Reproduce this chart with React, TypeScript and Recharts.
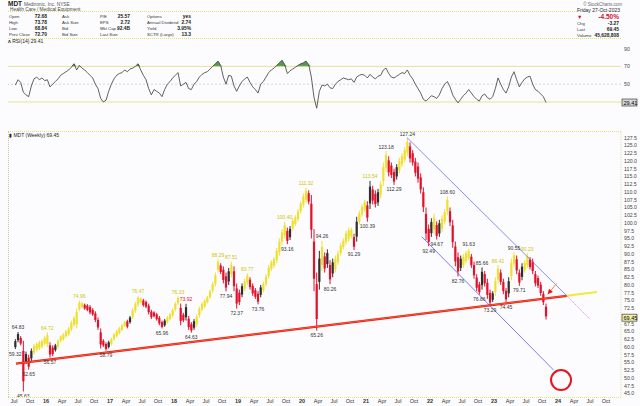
import React from 'react';
import {
  ComposedChart, Bar, Line, Area, XAxis, YAxis, Scatter,
  ReferenceLine, ReferenceDot,
} from 'recharts';

const FONT = '"Liberation Sans", Arial, sans-serif';

// Half-month bars [low, high]
const bars2015: [number, number][] = [[59.32,62.5],[61.5,64.83],[60.5,63.5],[45.63,62.0],[54.5,58.5],[52.65,57.5],[55.5,59.5],[57.5,61.0],[58.5,61.5],[59.0,62.0],[59.5,62.5],[60.5,63.5]];
const bars2016: [number, number][] = [[60.0,64.72],[56.57,61.5],[57.0,60.5],[58.5,61.0],[59.5,62.5],[61.5,63.8],[62.0,64.5],[63.0,65.5],[63.5,66.5],[65.0,68.5],[66.5,70.0],[66.0,72.5],[71.5,74.96],[72.5,74.5],[72.0,74.0],[71.5,73.8],[70.5,73.5],[70.0,72.5],[68.0,71.5],[65.5,69.5],[59.5,66.0],[60.0,62.5],[58.79,61.5],[59.5,62.0]];
const bars2017: [number, number][] = [[60.5,63.0],[62.0,64.5],[63.0,65.5],[64.0,66.5],[65.0,67.5],[66.5,68.5],[66.0,68.8],[67.5,70.0],[69.0,72.5],[71.0,74.5],[73.0,76.47],[74.0,76.0],[73.0,75.5],[72.5,75.0],[70.5,74.0],[69.0,72.0],[69.5,71.5],[68.5,71.0],[67.0,70.0],[65.96,68.5],[66.5,69.0],[67.5,70.0],[68.5,71.0],[69.5,72.5]];
const bars2018: [number, number][] = [[71.5,74.5],[73.5,76.33],[67.0,74.0],[68.0,71.0],[68.5,73.92],[65.5,70.0],[64.63,68.0],[65.5,69.0],[66.5,70.5],[69.5,73.0],[71.5,74.5],[72.5,75.5],[74.0,76.5],[75.5,78.5],[77.5,81.0],[79.5,84.0],[84.0,88.29],[83.5,87.0],[80.5,86.0],[77.94,84.0],[80.0,85.5],[82.5,87.51],[78.0,86.0],[72.37,80.5]];
const bars2019: [number, number][] = [[73.5,78.5],[76.0,80.5],[78.0,82.0],[80.0,83.77],[78.5,82.5],[76.5,80.5],[75.5,79.0],[73.76,78.0],[76.0,80.0],[77.5,81.0],[79.5,83.5],[82.0,86.5],[84.5,88.0],[85.5,89.0],[87.0,92.0],[89.5,95.0],[93.0,98.0],[95.0,100.4],[93.16,98.5],[94.5,99.0],[97.5,101.5],[99.0,102.5],[100.5,104.5],[103.0,107.0]];
const bars2020: [number, number][] = [[105.0,109.5],[106.5,111.32],[106.0,110.5],[95.0,109.0],[78.0,98.0],[65.26,84.0],[78.5,91.0],[84.5,94.26],[84.0,90.5],[85.5,91.5],[80.26,88.0],[82.5,88.5],[84.0,89.5],[86.5,91.0],[89.5,93.5],[91.5,95.0],[93.0,97.5],[94.0,98.5],[95.0,98.5],[91.29,96.5],[94.0,102.0],[99.5,104.0],[102.0,106.0],[103.5,107.5]];
const bars2021: [number, number][] = [[100.39,107.0],[104.5,113.54],[106.0,112.0],[105.0,110.5],[105.5,111.0],[108.0,113.5],[112.0,119.5],[116.5,123.18],[115.0,121.5],[114.5,119.5],[112.29,117.5],[114.0,119.0],[116.0,121.0],[118.0,122.5],[119.5,124.5],[121.5,127.24],[119.5,126.0],[118.5,123.5],[115.0,121.0],[113.0,119.5],[109.5,116.0],[103.5,111.5],[94.5,105.0],[92.49,99.5]];
const bars2022: [number, number][] = [[95.5,101.5],[96.5,103.0],[94.67,100.5],[95.5,101.0],[97.0,102.5],[99.5,104.5],[102.5,108.6],[99.0,105.0],[92.0,101.0],[86.0,94.0],[82.76,90.5],[84.5,89.5],[85.5,90.0],[87.0,91.0],[88.0,91.63],[85.5,90.0],[82.0,87.5],[78.0,83.5],[76.86,81.0],[78.5,85.66],[79.5,84.5],[75.5,82.0],[73.29,78.5],[74.5,78.0]];
const bars2023: [number, number][] = [[76.5,82.5],[80.5,86.41],[80.0,85.0],[77.0,82.0],[74.45,79.0],[76.0,82.5],[81.5,88.5],[86.0,90.55],[83.5,89.5],[79.71,85.0],[81.5,87.0],[84.0,88.0],[85.5,90.23],[85.0,89.0],[83.5,88.5],[79.5,84.5],[79.0,83.0],[76.5,81.0],[73.5,78.0],[68.84,74.0]];

// RSI(14), half-month readings
const rsi2015 = [49,55,52,41,38,36,48,56,58,55,57,54];
const rsi2016 = [55,47,50,53,56,60,62,64,66,69,73,66,71,68,66,63,60,57,50,45,34,30,32,42];
const rsi2017 = [50,56,60,62,63,66,64,67,68,70,73,66,60,55,45,38,44,42,40,36,44,50,53,57];
const rsi2018 = [60,63,48,50,52,45,44,50,53,58,61,63,64,67,70,73,76,71,58,50,60,59,48,42];
const rsi2019 = [48,53,56,58,52,47,44,40,50,53,58,63,66,68,71,74,77,72,62,65,67,69,71,73];
const rsi2020 = [74,76,72,58,35,23,42,49,48,50,46,45,50,53,55,57,56,55,56,52,58,60,61,60];
const rsi2021 = [57,61,58,56,59,60,66,68,62,58,57,59,61,63,62,66,60,56,50,45,40,33,31,34];
const rsi2022 = [37,36,34,38,45,50,53,47,38,33,29,33,37,40,44,40,36,33,31,37,39,35,33,36];
const rsi2023 = [45,57,50,44,40,47,58,64,55,47,52,56,58,59,50,44,42,39,36,29.41];

const years = [
  { year: 2015, startHalf: 12, bars: bars2015, rsi: rsi2015 },
  { year: 2016, startHalf: 0, bars: bars2016, rsi: rsi2016 },
  { year: 2017, startHalf: 0, bars: bars2017, rsi: rsi2017 },
  { year: 2018, startHalf: 0, bars: bars2018, rsi: rsi2018 },
  { year: 2019, startHalf: 0, bars: bars2019, rsi: rsi2019 },
  { year: 2020, startHalf: 0, bars: bars2020, rsi: rsi2020 },
  { year: 2021, startHalf: 0, bars: bars2021, rsi: rsi2021 },
  { year: 2022, startHalf: 0, bars: bars2022, rsi: rsi2022 },
  { year: 2023, startHalf: 0, bars: bars2023, rsi: rsi2023 },
];

// high / low annotations: [t, price, text, above?, colour]
const annotations: [number, number, string, boolean, string][] = [
  [2015.521, 59.32, '59.32', false, 'd'],
  [2015.563, 64.83, '64.83', true, 'd'],
  [2015.646, 45.63, '45.63', false, 'd'],
  [2015.729, 52.65, '52.65', false, 'd'],
  [2016.021, 64.72, '64.72', true, 'y'],
  [2016.063, 56.57, '56.57', false, 'd'],
  [2016.521, 74.96, '74.96', true, 'y'],
  [2016.938, 58.79, '58.79', false, 'd'],
  [2017.438, 76.47, '76.47', true, 'y'],
  [2017.813, 65.96, '65.96', false, 'd'],
  [2018.063, 76.33, '76.33', true, 'y'],
  [2018.188, 73.92, '73.92', true, 'r'],
  [2018.271, 64.63, '64.63', false, 'd'],
  [2018.688, 88.29, '88.29', true, 'y'],
  [2018.813, 77.94, '77.94', false, 'd'],
  [2018.896, 87.51, '87.51', true, 'y'],
  [2018.979, 72.37, '72.37', false, 'd'],
  [2019.146, 83.77, '83.77', true, 'y'],
  [2019.313, 73.76, '73.76', false, 'd'],
  [2019.729, 100.40, '100.40', true, 'y'],
  [2019.771, 93.16, '93.16', false, 'd'],
  [2020.063, 111.32, '111.32', true, 'y'],
  [2020.229, 65.26, '65.26', false, 'd'],
  [2020.313, 94.26, '94.26', true, 'd'],
  [2020.438, 80.26, '80.26', false, 'd'],
  [2020.813, 91.29, '91.29', false, 'd'],
  [2021.021, 100.39, '100.39', false, 'd'],
  [2021.063, 113.54, '113.54', true, 'y'],
  [2021.313, 123.18, '123.18', true, 'd'],
  [2021.438, 112.29, '112.29', false, 'd'],
  [2021.646, 127.24, '127.24', true, 'd'],
  [2021.979, 92.49, '92.49', false, 'd'],
  [2022.104, 94.67, '94.67', false, 'd'],
  [2022.271, 108.60, '108.60', true, 'd'],
  [2022.438, 82.76, '82.76', false, 'd'],
  [2022.604, 91.63, '91.63', true, 'd'],
  [2022.771, 76.86, '76.86', false, 'd'],
  [2022.813, 85.66, '85.66', true, 'd'],
  [2022.938, 73.29, '73.29', false, 'd'],
  [2023.063, 86.41, '86.41', true, 'y'],
  [2023.188, 74.45, '74.45', false, 'd'],
  [2023.313, 90.55, '90.55', true, 'd'],
  [2023.396, 79.71, '79.71', false, 'd'],
  [2023.521, 90.23, '90.23', true, 'y'],
];

// trendlines: [t1, p1, t2, p2]
const supportLine = [2015.53, 54.6, 2024.136, 76.5];
const supportExt = [2024.136, 76.5, 2024.61, 77.7];
const upperChannel = [2021.64, 127.56, 2024.136, 76.53];
const upperExt = [2024.136, 76.53, 2024.5, 68.92];
const lowerChannel = [2021.87, 95.56, 2023.93, 52.56];
const arrowLine = [2023.98, 80.53, 2023.84, 76.98];
const targetCircle = [2024.047, 49.32];

const xTickLabels = ['Jul','Oct',
  '16','Apr','Jul','Oct','17','Apr','Jul','Oct','18','Apr','Jul','Oct',
  '19','Apr','Jul','Oct','20','Apr','Jul','Oct','21','Apr','Jul','Oct',
  '22','Apr','Jul','Oct','23','Apr','Jul','Oct','24','Apr','Jul','Oct'];
const xTicks = xTickLabels.map((_, i) => 2015.5 + i * 0.25);
const yTicks = Array.from({ length: 34 }, (_, i) => 45 + i * 2.5).filter((v) => v !== 70);
const lastClose = 69.45;
const lastRsi = 29.41;

type Row = { t: number; low: number; high: number; rsi: number; color: string };
const rows: Row[] = [];
years.forEach((y) => {
  y.bars.forEach((b, i) => {
    rows.push({ t: y.year + (y.startHalf + i) / 24 + 1 / 48, low: b[0], high: b[1], rsi: y.rsi[i], color: '' });
  });
});
const mids = rows.map((r) => (r.low + r.high) / 2);
rows.forEach((r, i) => {
  const up = i === 0 || mids[i] > mids[i - 1];
  const up2 = i > 1 && mids[i - 1] > mids[i - 2];
  r.color = !up ? '#e4112b' : up2 ? '#eee030' : '#2e2e2e';
});

const annData = annotations.map(([t, p, text, above, c]) => ({ t, p, text, above, c }));
const segData = (a: number[]) => [{ t: a[0], v: a[1] }, { t: a[2], v: a[3] }];

const X_DOMAIN: [number, number] = [2015.406, 2024.984];

const CandleShape = (props: any) => {
  const { x, y, width, height, payload } = props;
  if (x == null || y == null || !payload) return null;
  const cx = x + (width || 0) / 2;
  const top = Math.min(y, y + height);
  const h = Math.max(Math.abs(height), 1);
  return (
    <g>
      <rect x={cx - 0.5} y={top} width={1} height={h} fill={payload.color} />
      <rect x={cx - 1.1} y={top + h * 0.2} width={2.2} height={h * 0.6} fill={payload.color} />
    </g>
  );
};

const AnnShape = (props: any) => {
  const { cx, cy, payload } = props;
  const fill = payload.c === 'y' ? '#cfc400' : payload.c === 'r' ? '#e4112b' : '#333';
  return (
    <text x={cx} y={payload.above ? cy - 2.5 : cy + 6.5} textAnchor="middle" fontSize={5} fill={fill} fontFamily={FONT}>
      {payload.text}
    </text>
  );
};

const XTick = (props: any) => {
  const { x, y, payload } = props;
  const idx = Math.round((payload.value - xTicks[0]) * 4);
  const label = xTickLabels[idx] ?? '';
  const isYear = /^\d/.test(label);
  return (
    <text x={x} y={y + 6} textAnchor="middle" fontSize={5.5} fontWeight={isYear ? 700 : 400} fill="#333" fontFamily={FONT}>
      {label}
    </text>
  );
};

const YTick = (props: any) => {
  const { x, y, payload } = props;
  if (payload.value === lastClose) {
    return (
      <g>
        <rect x={x - 2} y={y - 3.5} width={15} height={7} fill="#f4f0a8" stroke="#222" strokeWidth={0.6} />
        <text x={x - 0.5} y={y + 2} fontSize={5.5} fill="#000" fontFamily={FONT}>{payload.value.toFixed(2)}</text>
      </g>
    );
  }
  return (
    <text x={x} y={y + 2} fontSize={5.2} fill="#444" fontFamily={FONT}>{payload.value.toFixed(1)}</text>
  );
};

const RsiTick = (props: any) => {
  const { x, y, payload } = props;
  if (payload.value === lastRsi) {
    return (
      <g>
        <rect x={x - 2} y={y - 3.5} width={15} height={7} fill="#d8d8d8" stroke="#222" strokeWidth={0.6} />
        <text x={x - 0.5} y={y + 2} fontSize={5.5} fill="#000" fontFamily={FONT}>{payload.value.toFixed(2)}</text>
      </g>
    );
  }
  return <text x={x} y={y + 2} fontSize={5.2} fill="#444" fontFamily={FONT}>{payload.value}</text>;
};

const ArrowHead = (props: any) => {
  const { cx, cy } = props;
  if (cx == null || cy == null) return null;
  const ux = -0.633, uy = 0.774, nx = 0.774, ny = 0.633;
  const bx = cx - 5 * ux, by = cy - 5 * uy;
  const pts = `${cx},${cy} ${bx + 2.6 * nx},${by + 2.6 * ny} ${bx - 2.6 * nx},${by - 2.6 * ny}`;
  return <polygon points={pts} fill="#e8141c" />;
};

const txt = (s: React.CSSProperties): React.CSSProperties => ({
  position: 'absolute', whiteSpace: 'nowrap', lineHeight: '7px', fontSize: 5.5, color: '#222', ...s,
});

const headerRows = [
  ['Open', '72.68', 'Ask', 'P/E', '25.57', 'Options', 'yes'],
  ['High', '73.78', 'Ask Size', 'EPS', '2.72', 'Annual Dividend', '2.74'],
  ['Low', '68.84', 'Bid', 'Mkt Cap', '92.4B', 'Yield', '3.95%'],
  ['Prev Close', '72.70', 'Bid Size', 'Last Size', '', 'SCTR (Large)', '13.3'],
];
const rightRows = [
  ['Chg', '-3.27'],
  ['Last', '69.45'],
  ['Volume', '45,628,808'],
];

const TrendLine = (a: number[], stroke: string, width: number, dash?: string) => (
  <Line data={segData(a)} dataKey="v" stroke={stroke} strokeWidth={width} strokeDasharray={dash}
    dot={false} activeDot={false} isAnimationActive={false} />
);

export default function App() {
  const lbl = { fontSize: 4.3, color: '#333' };
  const val = { fontSize: 4.9, fontWeight: 700 } as React.CSSProperties;
  return (
    <div style={{ position: 'absolute', left: 0, top: 0, width: 640, height: 406, background: '#fcfcfe', fontFamily: FONT, overflow: 'hidden' }}>
      {/* header */}
      <div style={txt({ left: 8, top: 0, fontSize: 6.5 })}>
        <b>MDT</b> <span style={{ fontSize: 4.8, color: '#555' }}>Medtronic, Inc.  NYSE</span>
      </div>
      <div style={txt({ left: 10, top: 6.3, fontSize: 4.8, color: '#444' })}>Health Care / Medical Equipment</div>
      <div style={{ position: 'absolute', left: 8, top: 11, width: 569, borderTop: '1px dotted #e8e070' }} />
      {headerRows.map((r, i) => (
        <React.Fragment key={i}>
          <div style={txt({ left: 9, top: 12.5 + i * 6.2, ...lbl })}>{r[0]}</div>
          <div style={txt({ right: 640 - 47, top: 12.5 + i * 6.2, ...val })}>{r[1]}</div>
          <div style={txt({ left: 62, top: 12.5 + i * 6.2, ...lbl })}>{r[2]}</div>
          <div style={txt({ left: 100, top: 12.5 + i * 6.2, ...lbl })}>{r[3]}</div>
          <div style={txt({ right: 640 - 130, top: 12.5 + i * 6.2, ...val })}>{r[4]}</div>
          <div style={txt({ left: 147, top: 12.5 + i * 6.2, ...lbl })}>{r[5]}</div>
          <div style={txt({ right: 640 - 191, top: 12.5 + i * 6.2, ...val })}>{r[6]}</div>
        </React.Fragment>
      ))}
      <div style={txt({ right: 18, top: 0.5, fontSize: 4.5, color: '#666' })}>© StockCharts.com</div>
      <div style={txt({ right: 20, top: 7, fontSize: 5 })}>Friday  27-Oct-2023</div>
      <div style={txt({ left: 577, top: 13.5, fontSize: 5.5, color: '#c8102e' })}>▼</div>
      <div style={txt({ right: 21, top: 13, fontSize: 6.5, fontWeight: 700, color: '#c8102e' })}>-4.50%</div>
      {rightRows.map((r, i) => (
        <React.Fragment key={i}>
          <div style={txt({ left: 577, top: 19.5 + i * 6, ...lbl })}>{r[0]}</div>
          <div style={txt({ right: 21, top: 19.5 + i * 6, ...val })}>{r[1]}</div>
        </React.Fragment>
      ))}
      <div style={{ position: 'absolute', left: 8, top: 38, width: 613, borderTop: '1px dotted #e8e070' }} />
      <div style={txt({ left: 8, top: 37.5, fontSize: 5 })}><b>ᴧ</b> RSI(14) 29.41</div>

      {/* RSI panel */}
      <div style={{ position: 'absolute', left: 0, top: 38.3 }}>
        <ComposedChart width={640} height={76} data={rows} margin={{ top: 0, right: 0, left: 8, bottom: 0 }}>
          <XAxis type="number" dataKey="t" domain={X_DOMAIN} allowDataOverflow hide />
          <YAxis yAxisId="r" orientation="right" width={19} domain={[16.5, 101.9]} allowDataOverflow
            ticks={[lastRsi, 50, 70, 90]} interval={0} tickSize={0} tickMargin={3} axisLine={false} tick={RsiTick} />
          <ReferenceLine yAxisId="r" y={70} stroke="#e2dc78" strokeWidth={0.8} />
          <ReferenceLine yAxisId="r" y={30} stroke="#e2dc78" strokeWidth={0.8} />
          <ReferenceLine yAxisId="r" y={50} stroke="#b8b8b8" strokeWidth={0.6} strokeDasharray="2 2" />
          <Area yAxisId="r" type="linear" dataKey={(d: Row) => Math.max(d.rsi, 70)} baseValue={70}
            fill="#3f8f3f" fillOpacity={0.9} stroke="none" isAnimationActive={false} />
          <Line yAxisId="r" type="linear" dataKey="rsi" stroke="#3a3a3a" strokeWidth={0.8} dot={false} isAnimationActive={false} />
        </ComposedChart>
      </div>

      {/* main panel borders */}
      <div style={{ position: 'absolute', left: 8, top: 131, width: 613, borderTop: '1px dotted #e8e070' }} />
      <div style={{ position: 'absolute', left: 8, top: 131, height: 266, borderLeft: '1px dotted #c8c8a0' }} />
      <div style={{ position: 'absolute', left: 8, top: 396.5, width: 613, borderTop: '1px dotted #e8e070' }} />
      <div style={txt({ left: 9, top: 131.5, fontSize: 5 })}>▮ MDT (Weekly) 69.45</div>

      <div style={{ position: 'absolute', left: 0, top: 120 }}>
        <ComposedChart width={640} height={286} data={rows} margin={{ top: 11.7, right: 0, left: 8, bottom: 0 }}>
          <XAxis type="number" dataKey="t" domain={X_DOMAIN} allowDataOverflow ticks={xTicks} interval={0}
            height={9} tickSize={0} tickMargin={0} axisLine={false} tickLine={false} tick={XTick} />
          <YAxis orientation="right" width={19} domain={[43.85, 129.44]} allowDataOverflow
            ticks={[...yTicks, lastClose]} interval={0} tickSize={0} tickMargin={3}
            axisLine={{ stroke: '#d8d490', strokeDasharray: '1 1.5' }} tickLine={false} tick={YTick} />
          {TrendLine(supportLine, '#e8141c', 2.2)}
          {TrendLine(supportLine, '#ff8c2a', 0.6)}
          {TrendLine(supportExt, '#f4e83a', 2)}
          {TrendLine(upperChannel, '#6f6ff0', 0.8)}
          {TrendLine(upperExt, '#f07ef0', 0.9, '1.5 0.8')}
          {TrendLine(lowerChannel, '#5a5af0', 0.8)}
          <Bar dataKey={(d: Row) => [d.low, d.high]} barSize={2} shape={CandleShape} isAnimationActive={false} />
          <Scatter data={annData} dataKey="p" shape={AnnShape} isAnimationActive={false} />
          {TrendLine(arrowLine, '#ff8c2a', 1)}
          <ReferenceDot x={arrowLine[2]} y={arrowLine[3]} r={3} shape={ArrowHead} ifOverflow="visible" />
          <ReferenceDot x={targetCircle[0]} y={targetCircle[1]} r={10} fill="none" stroke="#e8141c" strokeWidth={2} ifOverflow="visible" />
        </ComposedChart>
      </div>
    </div>
  );
}
